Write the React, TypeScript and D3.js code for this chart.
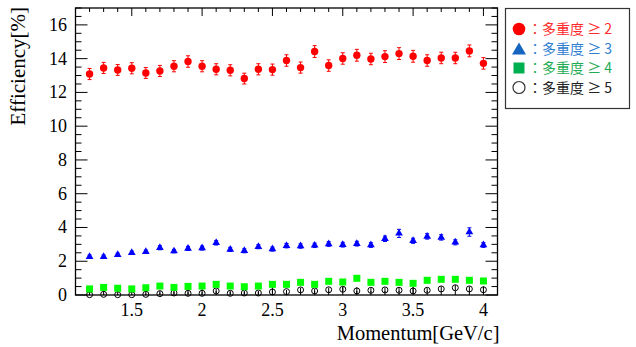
import React from "react";
import * as d3 from "d3";

const momentum = [1.2, 1.3, 1.4, 1.5, 1.6, 1.7, 1.8, 1.9, 2.0, 2.1, 2.2, 2.3, 2.4, 2.5, 2.6, 2.7, 2.8, 2.9, 3.0, 3.1, 3.2, 3.3, 3.4, 3.5, 3.6, 3.7, 3.8, 3.9, 4.0];

const mult2 = [13.09, 13.45, 13.33, 13.43, 13.15, 13.27, 13.55, 13.83, 13.55, 13.37, 13.31, 12.82, 13.37, 13.35, 13.89, 13.47, 14.42, 13.59, 14.01, 14.2, 13.98, 14.12, 14.3, 14.14, 13.89, 14.04, 14.04, 14.46, 13.72];
const mult2Err = [0.33, 0.33, 0.32, 0.33, 0.32, 0.33, 0.33, 0.34, 0.33, 0.33, 0.33, 0.32, 0.33, 0.33, 0.34, 0.33, 0.35, 0.34, 0.34, 0.35, 0.34, 0.35, 0.35, 0.35, 0.34, 0.34, 0.34, 0.35, 0.34];

const mult3 = [2.27, 2.27, 2.38, 2.5, 2.56, 2.8, 2.6, 2.76, 2.78, 3.09, 2.7, 2.62, 2.86, 2.72, 2.92, 2.9, 2.94, 3.02, 2.98, 3.04, 2.96, 3.33, 3.65, 3.21, 3.47, 3.41, 3.12, 3.73, 2.96];
const mult3Err = [0.1, 0.1, 0.1, 0.1, 0.1, 0.12, 0.1, 0.12, 0.12, 0.13, 0.12, 0.12, 0.12, 0.12, 0.13, 0.13, 0.13, 0.14, 0.14, 0.14, 0.14, 0.16, 0.24, 0.15, 0.16, 0.16, 0.15, 0.25, 0.14];

const mult4 = [0.36, 0.45, 0.4, 0.36, 0.43, 0.53, 0.45, 0.51, 0.53, 0.63, 0.53, 0.49, 0.53, 0.63, 0.63, 0.75, 0.63, 0.81, 0.77, 0.99, 0.75, 0.81, 0.75, 0.69, 0.87, 0.93, 0.93, 0.87, 0.83];
const mult4Err = [0.08, 0.09, 0.08, 0.08, 0.09, 0.1, 0.09, 0.1, 0.1, 0.11, 0.1, 0.1, 0.1, 0.11, 0.11, 0.12, 0.11, 0.12, 0.12, 0.14, 0.12, 0.12, 0.12, 0.12, 0.13, 0.13, 0.13, 0.13, 0.13];

const mult5 = [0.02, 0.04, 0.02, 0.02, 0.04, 0.08, 0.12, 0.1, 0.1, 0.24, 0.1, 0.12, 0.12, 0.18, 0.2, 0.3, 0.24, 0.31, 0.34, 0.24, 0.28, 0.3, 0.28, 0.24, 0.28, 0.36, 0.43, 0.36, 0.31];
const mult5Err = [0.04, 0.05, 0.04, 0.04, 0.05, 0.07, 0.08, 0.08, 0.08, 0.12, 0.08, 0.08, 0.08, 0.1, 0.1, 0.13, 0.12, 0.13, 0.14, 0.22, 0.13, 0.13, 0.13, 0.2, 0.13, 0.15, 0.16, 0.15, 0.2];

const xTicks = [1.5, 2, 2.5, 3, 3.5, 4];
const yTicks = [0, 2, 4, 6, 8, 10, 12, 14, 16];

const legendLabels = ["：多重度 ≥ 2", "：多重度 ≥ 3", "：多重度 ≥ 4", "：多重度 ≥ 5"];

const W = 636;
const H = 347;
const margin = { left: 75.5, right: 138.5, top: 8, bottom: 52 };

const serif = "'Liberation Serif', 'DejaVu Serif', serif";
const cjk = "'Noto Sans CJK JP', 'Noto Sans', sans-serif";

export default function App() {
  const x = d3.scaleLinear().domain([1.1, 4.1]).range([margin.left, W - margin.right]);
  const y = d3.scaleLinear().domain([0, 17]).range([H - margin.bottom, margin.top]);
  const x0 = x.range()[0], x1 = x.range()[1];
  const y0 = y.range()[0], y1 = y.range()[1];

  const xMinor = d3.range(11, 42).map((v) => v / 10);
  const yMinor = d3.range(0, 35).map((v) => v / 2);

  const errBars = (vals: number[], errs: number[], color: string, cap: number) =>
    vals.map((v, i) => {
      const cx = x(momentum[i]);
      const lo = y(Math.max(0, v - errs[i]));
      const hi = y(v + errs[i]);
      return (
        <g key={i} stroke={color} strokeWidth={1}>
          <line x1={cx} x2={cx} y1={lo} y2={hi} />
          {cap > 0 && <line x1={cx - cap} x2={cx + cap} y1={hi} y2={hi} />}
          {cap > 0 && <line x1={cx - cap} x2={cx + cap} y1={lo} y2={lo} />}
        </g>
      );
    });

  const tri = d3.symbol().type(d3.symbolTriangle).size(26)() as string;

  const legendRows = [29, 48.5, 68, 87.5];

  return (
    <svg width={W} height={H} style={{ position: "absolute", left: 0, top: 0, background: "#fff" }}>
      {/* frame */}
      <rect x={x0} y={y1} width={x1 - x0} height={y0 - y1} fill="none" stroke="#000" strokeWidth={1.3} />

      {/* x ticks, bottom and top */}
      {xMinor.map((v) => {
        const major = Math.abs(v * 2 - Math.round(v * 2)) < 1e-6;
        const len = major ? 8 : 4;
        return (
          <g key={"xt" + v} stroke="#000" strokeWidth={1}>
            <line x1={x(v)} x2={x(v)} y1={y0} y2={y0 - len} />
            <line x1={x(v)} x2={x(v)} y1={y1} y2={y1 + len} />
          </g>
        );
      })}
      {/* y ticks, left and right */}
      {yMinor.map((v) => {
        const major = v % 2 === 0;
        const len = major ? 12 : 6;
        return (
          <g key={"yt" + v} stroke="#000" strokeWidth={1}>
            <line x1={x0} x2={x0 + len} y1={y(v)} y2={y(v)} />
            <line x1={x1} x2={x1 - len} y1={y(v)} y2={y(v)} />
          </g>
        );
      })}

      {/* tick labels */}
      {xTicks.map((v) => (
        <text key={"xl" + v} x={x(v)} y={316} textAnchor="middle" fontFamily={serif} fontSize={18}>
          {v}
        </text>
      ))}
      {yTicks.map((v) => (
        <text key={"yl" + v} x={67} y={y(v) + 6} textAnchor="end" fontFamily={serif} fontSize={18}>
          {v}
        </text>
      ))}

      {/* axis titles */}
      <text x={x1 + 2} y={340} textAnchor="end" fontFamily={serif} fontSize={20.5}>
        Momentum[GeV/c]
      </text>
      <text transform={`translate(25,${y1 - 1}) rotate(-90)`} textAnchor="end" fontFamily={serif} fontSize={21}>
        Efficiency[%]
      </text>

      {/* multiplicity >= 5 : open circles */}
      {errBars(mult5, mult5Err, "#000", 0)}
      {mult5.map((v, i) => (
        <circle key={"c5" + i} cx={x(momentum[i])} cy={y(v)} r={3} fill="none" stroke="#000" strokeWidth={1} />
      ))}

      {/* multiplicity >= 4 : squares */}
      {errBars(mult4, mult4Err, "#00ff00", 0)}
      {mult4.map((v, i) => (
        <rect key={"s4" + i} x={x(momentum[i]) - 3.5} y={y(v) - 3.5} width={7} height={7} fill="#00ff00" />
      ))}

      {/* multiplicity >= 3 : triangles */}
      {errBars(mult3, mult3Err, "#0000ff", 2)}
      {mult3.map((v, i) => (
        <path key={"t3" + i} d={tri} transform={`translate(${x(momentum[i])},${y(v)})`} fill="#0000ff" />
      ))}

      {/* multiplicity >= 2 : filled circles */}
      {errBars(mult2, mult2Err, "#ff0000", 2)}
      {mult2.map((v, i) => (
        <circle key={"c2" + i} cx={x(momentum[i])} cy={y(v)} r={3.7} fill="#ff0000" />
      ))}

      {/* legend */}
      <rect x={505.5} y={8.5} width={124} height={100} fill="#fff" stroke="#333" strokeWidth={1.2} />
      <circle cx={519} cy={legendRows[0]} r={6.3} fill="#ff0000" />
      <path d="M519,42.5 L526,54.5 L512,54.5 Z" fill="#1565c0" />
      <rect x={513.5} y={legendRows[2] - 5.5} width={11} height={11} fill="#00b050" />
      <circle cx={519} cy={legendRows[3]} r={6} fill="none" stroke="#333" strokeWidth={1.2} />
      {legendLabels.map((t, i) => (
        <text
          key={t}
          x={528}
          y={legendRows[i] + 5}
          fontFamily={cjk}
          fontSize={14}
          fill={["#ff2a2a", "#2f80d0", "#1fab55", "#222"][i]}
        >
          {t}
        </text>
      ))}
    </svg>
  );
}
